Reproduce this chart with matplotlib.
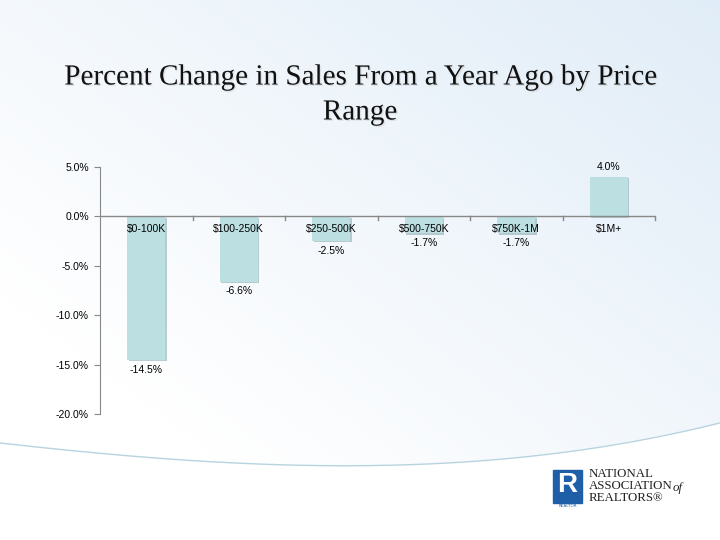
import numpy as np
import matplotlib.pyplot as plt
import matplotlib.patheffects as pe
from matplotlib.patches import Rectangle

# data
categories = ['$0-100K', '$100-250K', '$250-500K', '$500-750K', '$750K-1M', '$1M+']
pct_change = [-14.5, -6.6, -2.5, -1.7, -1.7, 4.0]
value_labels = ['-14.5%', '-6.6%', '-2.5%', '-1.7%', '-1.7%', '4.0%']
yticks = [5, 0, -5, -10, -15, -20]

W, H = 720, 540
fig = plt.figure(figsize=(7.2, 5.4), dpi=100)

# background gradient with the curved band at the bottom
bg = fig.add_axes([0, 0, 1, 1])
xx, yy = np.meshgrid(np.linspace(0, 1, W), np.linspace(0, 1, H))
t = np.clip(0.55 * xx + 0.55 * (1 - yy) - 0.25, 0, 1)
top = np.array([0.86, 0.915, 0.965])
white = np.array([1.0, 1.0, 1.0])
img = white[None, None, :] * (1 - t[..., None]) + top[None, None, :] * t[..., None]
bg.imshow(img, extent=[0, W, 0, H], origin='upper', aspect='auto')
cx = np.linspace(0, W, 300)
coef = np.polyfit([0, 240, 360, 600, 720], [443, 463, 466, 447, 423], 3)
cy = np.polyval(coef, cx)
bg.fill_between(cx, H - cy, 0, color='white', zorder=2)
bg.plot(cx, H - cy, color='#b8d3e0', lw=1.0, zorder=3)
bg.set_xlim(0, W)
bg.set_ylim(0, H)
bg.axis('off')

# logo
bg.add_patch(Rectangle((553, H - 503), 29, 33, color='#1f5fa8', zorder=4))
bg.text(567.5, H - 485, 'R', color='white', fontsize=20, fontweight='bold',
        family='Liberation Sans', ha='center', va='center', zorder=5)
bg.text(567.5, H - 506, 'REALTOR', color='#1f5fa8', fontsize=3, ha='center', va='center', zorder=5)
bg.text(589, H - 486, 'NATIONAL\nASSOCIATION\nREALTORS®', family='Liberation Serif',
        fontsize=9.3, ha='left', va='center', linespacing=0.95, color='#222222', zorder=5)
bg.text(673, H - 488, 'of', family='Liberation Serif', fontstyle='italic',
        fontsize=9.3, ha='left', va='center', color='#222222', zorder=5)

fig.text(0.5, 1 - 95 / H, 'Percent Change in Sales From a Year Ago by Price\nRange',
         ha='center', va='center', family='Liberation Serif', fontsize=21,
         linespacing=1.45, color='#111111',
         path_effects=[pe.withSimplePatchShadow(offset=(1, -1), shadow_rgbFace='#999999', alpha=0.2)])

ax = fig.add_axes([100 / W, 1 - 414 / H, 555 / W, (414 - 167) / H])
ax.patch.set_alpha(0)
x = np.arange(len(categories))
bars = ax.bar(x, pct_change, width=0.41, color='#bcdfe2', zorder=2)
for b in bars:
    b.set_path_effects([pe.SimplePatchShadow(offset=(1, -1), shadow_rgbFace='#7a9ea3', alpha=0.5),
                        pe.Normal()])

ax.set_xlim(-0.5, len(categories) - 0.5)
ax.set_ylim(-20, 5)
ax.set_yticks(yticks)
ax.set_yticklabels([f'{v:.1f}%' for v in yticks], family='Liberation Sans', fontsize=7.5)
ax.tick_params(axis='y', length=4, color='#888888', pad=4)
ax.set_xticks([])
for s in ['top', 'right', 'bottom']:
    ax.spines[s].set_visible(False)
ax.spines['left'].set_color('#888888')
ax.axhline(0, color='#888888', lw=1, zorder=3)
for b in np.arange(0.5, len(categories), 1):
    ax.plot([b, b], [0, -0.35], color='#888888', lw=1, zorder=3, clip_on=False)

for i, (cat, v, lab) in enumerate(zip(categories, pct_change, value_labels)):
    ax.text(i, -1.25, cat, ha='center', va='center', family='Liberation Sans',
            fontsize=7.5, zorder=4)
    if v < 0:
        ax.text(i, v - 1.0, lab, ha='center', va='center', family='Liberation Sans', fontsize=7.5)
    else:
        ax.text(i, v + 1.0, lab, ha='center', va='center', family='Liberation Sans', fontsize=7.5)

plt.savefig('out.png', dpi=100)
